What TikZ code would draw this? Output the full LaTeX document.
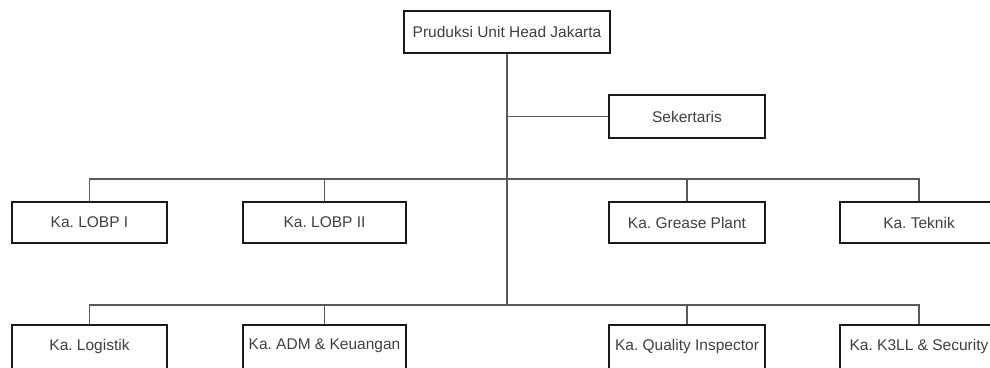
\documentclass[tikz,border=0pt]{standalone}
\usepackage{fontspec}
\setmainfont{Liberation Sans}
\frenchspacing
\begin{document}
\begin{tikzpicture}[x=1pt,y=-1pt,
  box/.style={draw=black!90, line width=1.8pt, fill=white, inner sep=0pt,
    minimum height=42pt, text=black!75, font=\fontsize{15.5}{18}\selectfont},
  lbl/.style={text=black!75, font=\fontsize{15.5}{18}\selectfont},
  link/.style={draw=black!65, line width=1.1pt}]
\useasboundingbox (0,0) rectangle (990,367);
\clip (0,0) rectangle (990,367);
\fill[white] (0,0) rectangle (990,367);
\coordinate (b1) at (507,179);
\coordinate (b2) at (507,305);
\node[box, minimum width=206pt] (top) at (507,32) {Pruduksi Unit Head Jakarta};
\node[box, minimum width=156pt, minimum height=43pt] (sek) at (687,116.5) {Sekertaris};
\node[box, minimum width=155pt, minimum height=41pt] (lobp1) at (89.5,222.5) {Ka. LOBP I};
\node[box, minimum width=163pt, minimum height=41pt] (lobp2) at (324.5,222.5) {Ka. LOBP II};
\node[box, minimum width=156pt, minimum height=41pt] (grease) at (687,222.5) {Ka. Grease Plant};
\node[box, minimum width=158pt, minimum height=41pt] (teknik) at (919,222.5) {Ka. Teknik};
\node[box, minimum width=155pt, minimum height=48pt] (logistik) at (89.5,349) {};
\node[box, minimum width=163pt, minimum height=48pt] (adm) at (324.5,349) {};
\node[box, minimum width=156pt, minimum height=48pt] (quality) at (687,349) {};
\node[box, minimum width=158pt, minimum height=48pt] (k3ll) at (919,349) {};
\node[lbl] (tlog) at (89.5,346) {Ka. Logistik};
\node[lbl] (tadm) at (324.5,346) {Ka. ADM \& Keuangan};
\node[lbl] (tqual) at (687,346) {Ka. Quality Inspector};
\node[lbl] (tk3ll) at (919,346) {Ka. K3LL \& Security};
\draw[link] (top.south) -- (b2);
\draw[link] (sek.west) -- (sek.west -| top.south);
\draw[link] (lobp1.north) |- (b1) -| (teknik.north);
\draw[link] (lobp2.north) -- (lobp2.north |- b1);
\draw[link] (grease.north) -- (grease.north |- b1);
\draw[link] (logistik.north) |- (b2) -| (k3ll.north);
\draw[link] (adm.north) -- (adm.north |- b2);
\draw[link] (quality.north) -- (quality.north |- b2);
\end{tikzpicture}
\end{document}
